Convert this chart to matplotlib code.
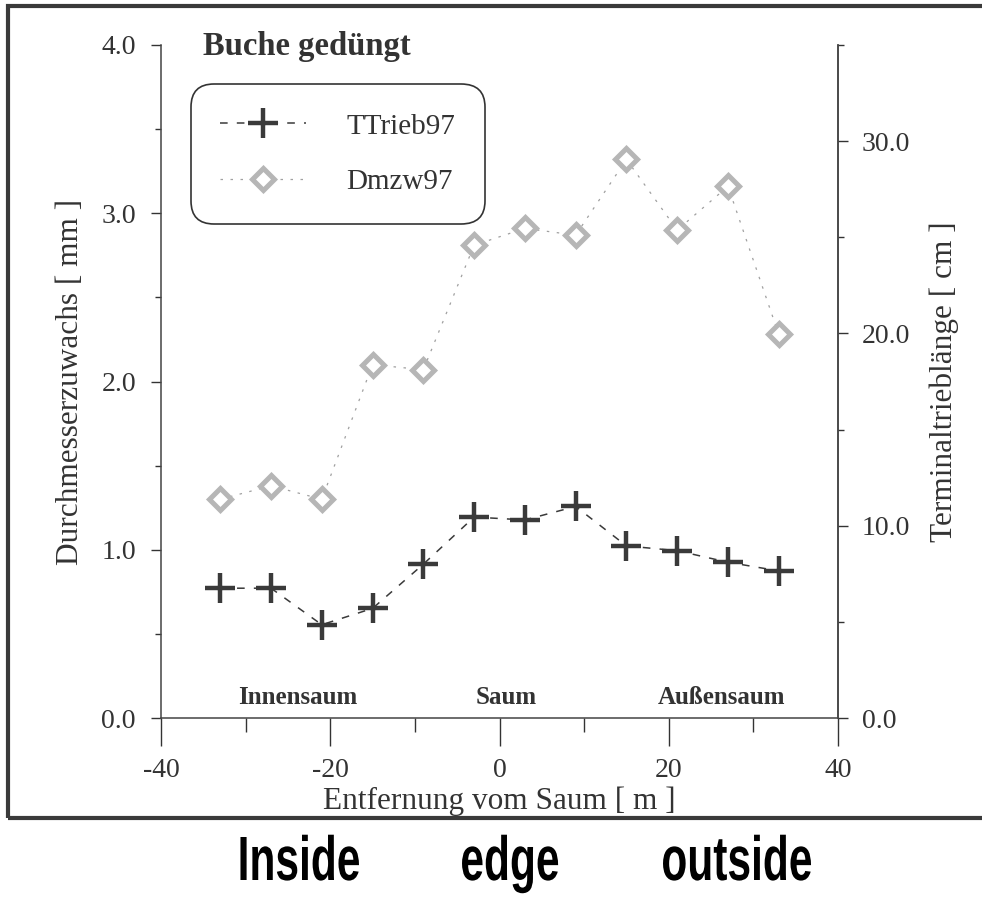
import matplotlib
matplotlib.use("Agg")
import matplotlib.pyplot as plt
import matplotlib.ticker as mticker
from matplotlib.patches import Rectangle
from matplotlib.patheffects import AbstractPathEffect
from matplotlib.transforms import Affine2D

# distance from the stand edge [m]
dist = [-33, -27, -21, -15, -9, -3, 3, 9, 15, 21, 27, 33]
# diameter increment 1997 [mm]
dmzw97 = [1.30, 1.38, 1.30, 2.10, 2.07, 2.81, 2.91, 2.87, 3.32, 2.90, 3.16, 2.28]
# terminal shoot length 1997 [cm]
ttrieb97 = [6.75, 6.75, 4.85, 5.7, 8.0, 10.45, 10.3, 11.0, 8.95, 8.7, 8.1, 7.65]

zones = ["Innensaum", "Saum", "Außensaum"]
zone_x = [-23.8, 0.8, 26.2]
english = ["Inside", "edge", "outside"]
english_px = [299, 510, 737]

SERIF = ["Liberation Serif", "DejaVu Serif"]
SANS = ["Liberation Sans", "DejaVu Sans"]
INK = "#333333"
W, H = 982, 899


class Squeeze(AbstractPathEffect):
    """Compress glyph outlines horizontally about a fixed x (in pixels)."""

    def __init__(self, sx, cx):
        super().__init__()
        self.sx, self.cx = sx, cx

    def draw_path(self, renderer, gc, tpath, affine, rgbFace=None):
        squeeze = Affine2D().translate(-self.cx, 0).scale(self.sx, 1).translate(self.cx, 0)
        renderer.draw_path(gc, tpath, affine + squeeze, rgbFace)


plt.rcParams["font.family"] = SERIF
plt.rcParams["text.color"] = INK
plt.rcParams["axes.labelcolor"] = INK
plt.rcParams["xtick.color"] = INK
plt.rcParams["ytick.color"] = INK

fig = plt.figure(figsize=(W / 100, H / 100), dpi=100)
ax = fig.add_axes([161 / W, 1 - 718 / H, (838 - 161) / W, (718 - 45) / H])
ax2 = ax.twinx()

# diameter increment on the left axis
ax.plot(dist, dmzw97, color="#a0a0a0", lw=0.9, ls=(0, (2, 6)),
        marker="D", ms=11, mew=3.6, mec="#b6b6b6", mfc="white",
        label="Dmzw97", zorder=3)
# terminal shoot length on the right axis
ax2.plot(dist, ttrieb97, color="#3a3a3a", lw=1.1, ls=(0, (5, 6)),
         marker="+", ms=21, mew=3.2, mec="#3a3a3a",
         label="TTrieb97", zorder=4)

ax.set_xlim(-40, 40)
ax.set_ylim(0, 4)
ax2.set_ylim(0, 35)

ax.xaxis.set_major_locator(mticker.MultipleLocator(20))
ax.xaxis.set_minor_locator(mticker.MultipleLocator(10))
ax.yaxis.set_major_locator(mticker.MultipleLocator(1))
ax.yaxis.set_minor_locator(mticker.MultipleLocator(0.5))
ax2.yaxis.set_major_locator(mticker.MultipleLocator(10))
ax2.yaxis.set_minor_locator(mticker.MultipleLocator(5))
ax.yaxis.set_major_formatter(mticker.FormatStrFormatter("%.1f"))
ax2.yaxis.set_major_formatter(mticker.FormatStrFormatter("%.1f"))
ax.xaxis.set_major_formatter(mticker.FormatStrFormatter("%d"))

for a in (ax, ax2):
    a.spines["top"].set_visible(False)
    for s in a.spines.values():
        s.set_color("#444444")
        s.set_linewidth(1.1)
    a.patch.set_visible(False)

ax.tick_params(axis="x", which="major", direction="out", length=20, width=1.0,
               pad=9, labelsize=20)
ax.tick_params(axis="x", which="minor", direction="out", length=10, width=1.0)
ax.tick_params(axis="y", which="major", direction="out", length=7, width=1.0,
               pad=11, labelsize=20)
ax.tick_params(axis="y", which="minor", direction="out", length=4, width=1.0)
ax2.tick_params(axis="y", which="major", direction="out", length=7, width=1.0,
                pad=10, labelsize=20)
ax2.tick_params(axis="y", which="minor", direction="out", length=4, width=1.0)
ax2.spines["left"].set_visible(False)
ax2.spines["bottom"].set_visible(False)

ax.set_xlabel("Entfernung vom Saum [ m ]", fontsize=22.5, labelpad=2)
ax.set_ylabel("Durchmesserzuwachs [ mm ]", fontsize=22.5, labelpad=12)
ax2.set_ylabel("Terminaltrieblänge [ cm ]", fontsize=22.5, labelpad=14)

# zone names along the distance axis
for name, x in zip(zones, zone_x):
    ax.text(x, 0.055, name, ha="center", va="bottom", fontsize=18,
            fontweight="bold")

fig.text(203 / W, 1 - 55 / H, "Buche gedüngt", fontsize=23.5,
         fontweight="bold", ha="left", va="baseline")

h1, l1 = ax2.get_legend_handles_labels()
h2, l2 = ax.get_legend_handles_labels()
leg = ax2.legend(h1 + h2, l1 + l2, loc="upper left",
                 bbox_to_anchor=(191 / W, 1 - 84 / H),
                 bbox_transform=fig.transFigure, fontsize=21,
                 numpoints=1, handlelength=2.95, handletextpad=1.38,
                 borderpad=1.0, labelspacing=1.0, borderaxespad=0,
                 fancybox=True, framealpha=1, edgecolor=INK)
leg.get_frame().set_linewidth(1.2)
leg.get_frame().set_boxstyle("round", pad=0, rounding_size=0.8)

# outer frame of the panel
fig.patches.append(Rectangle((8 / W, 1 - 818 / H), 1.0, (818 - 6) / H,
                             transform=fig.transFigure, fill=False,
                             lw=3.0, edgecolor="#3a3a3a"))

for word, px in zip(english, english_px):
    fig.text(px / W, 1 - 880 / H, word, family=SANS, fontsize=45,
             fontweight="bold", color="black", ha="center", va="baseline",
             path_effects=[Squeeze(0.68, px)])

fig.savefig("out.png", dpi=100)
